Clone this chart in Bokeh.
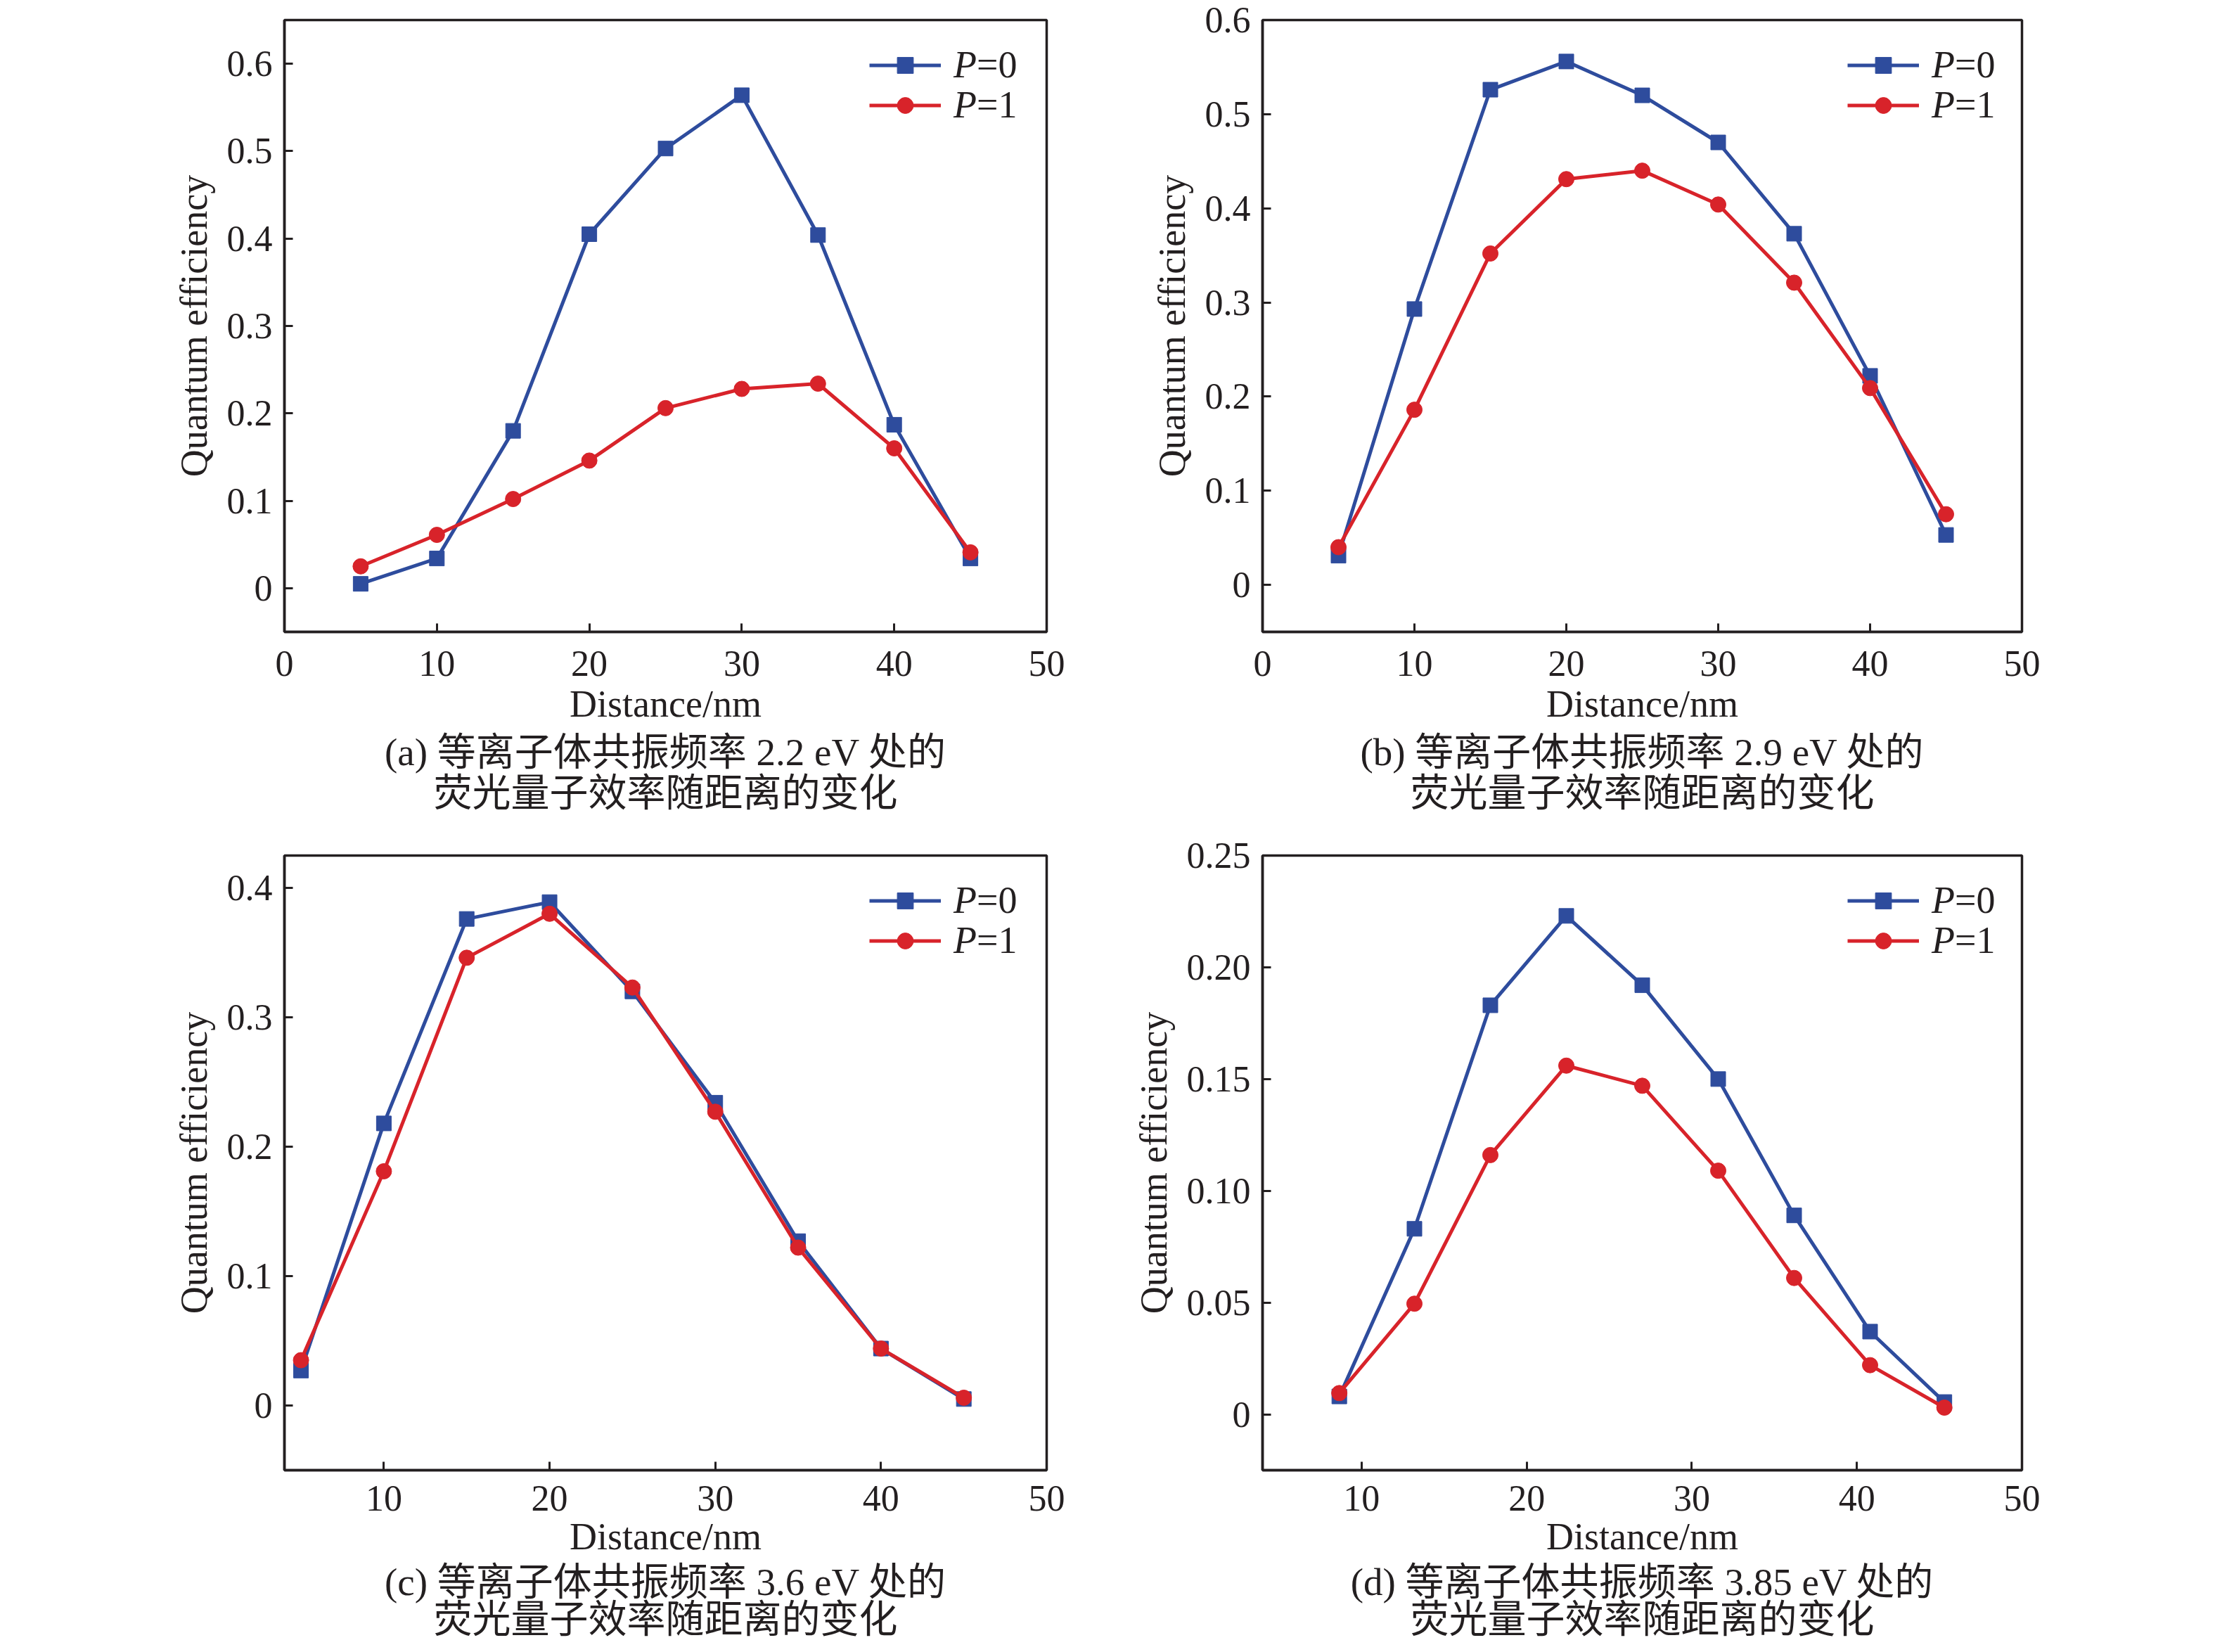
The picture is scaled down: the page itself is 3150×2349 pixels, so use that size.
from bokeh.embed import file_html
from bokeh.layouts import gridplot
from bokeh.models import FixedTicker, Legend, LegendItem, NumeralTickFormatter, Range1d, Title
from bokeh.plotting import figure
from bokeh.resources import INLINE

# distances (nm)
distance = [5, 10, 15, 20, 25, 30, 35, 40, 45]
distance_d = [8.65, 13.2, 17.8, 22.4, 27.0, 31.6, 36.2, 40.8, 45.3]

# quantum efficiency, P=0 / P=1
qe_a_p0 = [0.005, 0.034, 0.180, 0.405, 0.503, 0.564, 0.404, 0.187, 0.034]
qe_a_p1 = [0.025, 0.061, 0.102, 0.146, 0.206, 0.228, 0.234, 0.160, 0.041]
qe_b_p0 = [0.031, 0.293, 0.526, 0.556, 0.520, 0.470, 0.373, 0.222, 0.053]
qe_b_p1 = [0.040, 0.186, 0.352, 0.431, 0.440, 0.404, 0.321, 0.209, 0.075]
qe_c_p0 = [0.027, 0.218, 0.376, 0.389, 0.320, 0.234, 0.127, 0.044, 0.005]
qe_c_p1 = [0.035, 0.181, 0.346, 0.380, 0.323, 0.227, 0.122, 0.044, 0.006]
qe_d_p0 = [0.008, 0.083, 0.183, 0.223, 0.192, 0.150, 0.089, 0.037, 0.0055]
qe_d_p1 = [0.0095, 0.0495, 0.116, 0.156, 0.147, 0.109, 0.061, 0.022, 0.003]

x_ticks_ab = [0, 10, 20, 30, 40, 50]
x_ticks_cd = [10, 20, 30, 40, 50]
y_ticks_ab = [0, 0.1, 0.2, 0.3, 0.4, 0.5, 0.6]
y_ticks_c = [0, 0.1, 0.2, 0.3, 0.4]
y_ticks_d = [0, 0.05, 0.10, 0.15, 0.20, 0.25]

captions = [
    ("(a) 等离子体共振频率 2.2 eV 处的", "荧光量子效率随距离的变化"),
    ("(b) 等离子体共振频率 2.9 eV 处的", "荧光量子效率随距离的变化"),
    ("(c) 等离子体共振频率 3.6 eV 处的", "荧光量子效率随距离的变化"),
    ("(d) 等离子体共振频率 3.85 eV 处的", "荧光量子效率随距离的变化"),
]
legend_p = ["P", "P"]
legend_v = ["=0", "=1"]

BLUE = "#2e4c9d"
RED = "#d8232a"
INK = "#231f20"
SERIF = "Liberation Serif"
CAPTION_FONT = "Liberation Serif, Noto Sans CJK SC"


def legend_row(p, renderers, row, frame_h):
    # one legend per row so the rows sit as close as in the original
    leg_y = frame_h - 95 - 57 * row
    common = dict(glyph_height=57, label_height=57, spacing=0, padding=0,
                  margin=0, border_line_color=None, background_fill_alpha=0,
                  label_text_font=SERIF, label_text_font_size="54px",
                  label_text_color=INK)
    leg_p = Legend(items=[LegendItem(label=legend_p[row], renderers=renderers)],
                   location=(832, leg_y), glyph_width=102, label_standoff=18,
                   label_text_font_style="italic", **common)
    dummy = p.line(x=[], y=[], line_alpha=0)
    leg_v = Legend(items=[LegendItem(label=legend_v[row], renderers=[dummy])],
                   location=(832 + 102 + 18 + 33, leg_y), glyph_width=0,
                   label_standoff=0, **common)
    p.add_layout(leg_p, "center")
    p.add_layout(leg_v, "center")


def panel(x, p0, p1, x_range, y_range, x_ticks, y_ticks, caption,
          borders, height, x_standoffs, cap_standoffs, y_format="0.0"):
    left, right, top, bottom = borders
    p = figure(width=1567, height=height,
               x_range=Range1d(*x_range), y_range=Range1d(*y_range),
               output_backend="svg", toolbar_location=None,
               min_border_left=left, min_border_right=right,
               min_border_top=top, min_border_bottom=bottom)
    p.grid.visible = False
    p.outline_line_color = INK
    p.outline_line_width = 3.5
    p.outline_line_alpha = 1

    for ax in (p.xaxis[0], p.yaxis[0]):
        ax.axis_line_color = INK
        ax.axis_line_width = 3.5
        ax.major_tick_in = 12
        ax.major_tick_out = 0
        ax.major_tick_line_width = 3
        ax.major_tick_line_color = INK
        ax.minor_tick_line_color = None
        ax.major_label_text_font = SERIF
        ax.major_label_text_font_size = "52px"
        ax.major_label_text_color = INK
        ax.axis_label_text_font = SERIF
        ax.axis_label_text_font_size = "54px"
        ax.axis_label_text_font_style = "normal"
        ax.axis_label_text_color = INK

    p.xaxis.ticker = FixedTicker(ticks=x_ticks)
    p.yaxis.ticker = FixedTicker(ticks=y_ticks)
    p.yaxis.formatter = NumeralTickFormatter(format=y_format)
    p.yaxis.major_label_overrides = {0: "0"}
    p.xaxis.major_label_standoff = x_standoffs[0]
    p.xaxis.axis_label_standoff = x_standoffs[1]
    p.yaxis.major_label_standoff = 17
    p.yaxis.axis_label_standoff = 14
    p.xaxis.axis_label = "Distance/nm"
    p.yaxis.axis_label = "Quantum efficiency"

    l0 = p.line(x, p0, line_color=BLUE, line_width=5)
    s0 = p.scatter(x, p0, marker="square", size=21, color=BLUE)
    l1 = p.line(x, p1, line_color=RED, line_width=5)
    s1 = p.scatter(x, p1, marker="circle", size=22, color=RED)

    frame_h = height - top - bottom
    legend_row(p, [l0, s0], 0, frame_h)
    legend_row(p, [l1, s1], 1, frame_h)

    for line, st in zip(caption, cap_standoffs):
        p.add_layout(Title(text=line, align="center", text_font=CAPTION_FONT,
                           text_font_size="55px", text_font_style="normal",
                           text_color=INK, standoff=st),
                     "below")
    return p


top_row = dict(height=1167, x_standoffs=(27, 7), cap_standoffs=(6, -15))
bottom_row = dict(height=1166, x_standoffs=(22, 4), cap_standoffs=(-2, -17))

pa = panel(distance, qe_a_p0, qe_a_p1, (0, 50), (-0.05, 0.65),
           x_ticks_ab, y_ticks_ab, captions[0], (404, 79, 28, 269), **top_row)
pb = panel(distance, qe_b_p0, qe_b_p1, (0, 50), (-0.05, 0.6),
           x_ticks_ab, y_ticks_ab, captions[1], (228, 250, 28, 269), **top_row)
pc = panel(distance, qe_c_p0, qe_c_p1, (4, 50), (-0.05, 0.425),
           x_ticks_cd, y_ticks_c, captions[2], (404, 79, 49, 243), **bottom_row)
pd = panel(distance_d, qe_d_p0, qe_d_p1, (4, 50), (-0.025, 0.25),
           x_ticks_cd, y_ticks_d, captions[3], (217, 259, 49, 243), **bottom_row,
           y_format="0.00")

layout = gridplot([[pa, pb], [pc, pd]], toolbar_location=None)

open("out.html", "w").write(file_html(layout, INLINE))
